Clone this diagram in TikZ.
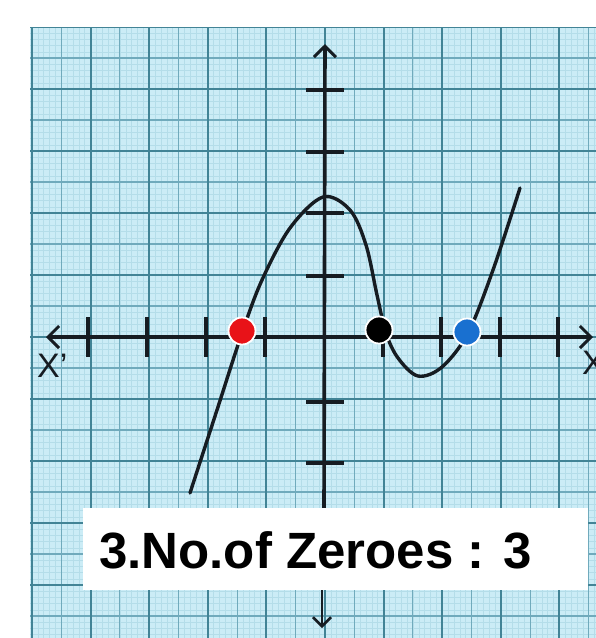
\documentclass[tikz,border=0pt]{standalone}
\usepackage{fontspec}
\setmainfont{Liberation Sans}
\usetikzlibrary{arrows.meta}
\definecolor{paper}{RGB}{203,236,246}
\definecolor{gridmajor}{RGB}{66,132,150}
\definecolor{gridhalf}{RGB}{112,170,188}
\definecolor{gridfine}{RGB}{180,221,233}
\definecolor{dotred}{RGB}{232,18,24}
\definecolor{dotblue}{RGB}{25,112,208}
\definecolor{ink}{RGB}{22,28,34}
\tikzset{
  axisline/.style={draw=ink, line width=3.6pt},
  tickline/.style={draw=ink, line width=3.4pt},
  curveline/.style={draw=ink, line width=3.4pt, line cap=round},
  zdot/.style={circle, minimum size=27pt, inner sep=0pt, draw=white, line width=1.8pt},
  barbtip/.tip={Straight Barb[length=11pt, width=22pt, line width=3pt]},
  smallbarbtip/.tip={Straight Barb[length=9pt, width=18pt, line width=2.6pt]}
}
\begin{document}
\begin{tikzpicture}[x=1pt, y=-1pt]
\useasboundingbox (0,0) rectangle (596,638);
\fill[white] (0,0) rectangle (596,638);
\fill[paper] (30,27) rectangle (596,638);
\begin{scope}
  \clip (30,27) rectangle (596,638);
  \foreach \k in {-50,...,50} {
    \draw[gridfine, line width=0.5pt] ({325+\k*5.86},27) -- ++(0,611);
    \draw[gridfine, line width=0.5pt] (30,{337+\k*6.2}) -- ++(566,0);
  }
  \foreach \k in {-6,...,5} {
    \draw[gridhalf, line width=1.1pt] ({325+(\k+0.5)*58.6},27) -- ++(0,611);
    \draw[gridhalf, line width=1.1pt] (30,{337+(\k+0.5)*62}) -- ++(566,0);
  }
  \foreach \k in {-5,...,5} {
    \draw[gridmajor, line width=1.9pt] ({325+\k*58.6},27) -- ++(0,611);
    \draw[gridmajor, line width=1.9pt] (30,{337+\k*62}) -- ++(566,0);
  }
\end{scope}

% axes
\coordinate (xl) at (46,337);
\coordinate (xr) at (593,337);
\coordinate (yt) at (325,44);
\coordinate (yb) at (324,512);
\coordinate (db) at (322,588);
\coordinate (dt) at (322,628);
\draw[axisline, barbtip-barbtip] (xl) -- (xr);
\draw[axisline, -barbtip] (yb) -- (yt);
\draw[ink, line width=2.8pt, -smallbarbtip] (db) -- (dt);

\foreach \x in {88,147,206,265,383,441,500,558}
  \draw[tickline] (\x,317) -- (\x,357);
\foreach \y in {90,152,213,276,402,463}
  \draw[tickline] (306,\y) -- (344,\y);

% curve
\draw[curveline] plot[smooth, tension=0.55] coordinates {
  (190,493) (217,410) (242,333) (262,280) (290,228) (323,197)
  (350,210) (366,245) (377,295) (386,333) (398,358) (418,376)
  (442,367) (468,333) (493,270) (520,188)};

% zeroes
\node[zdot, fill=dotred] (z1) at (242,331) {};
\node[zdot, fill=black] (z2) at (379,330) {};
\node[zdot, fill=dotblue] (z3) at (467,332) {};

% axis labels
\node[anchor=west, inner sep=0pt, text=ink, font=\fontsize{34}{34}\selectfont] (xlab) at (37,366) {X'};
\node[anchor=west, inner sep=0pt, text=ink, font=\fontsize{34}{34}\selectfont] (xrlab) at (582,363) {X};

% caption box
\node[fill=white, minimum width=505pt, minimum height=82pt, inner sep=0pt] (box) at (335.5,549) {};
\node[anchor=west, inner sep=0pt, text=black, font=\bfseries\fontsize{51}{51}\selectfont] (cap) at (99,550) {3.No.of Zeroes : 3};
\end{tikzpicture}
\end{document}
